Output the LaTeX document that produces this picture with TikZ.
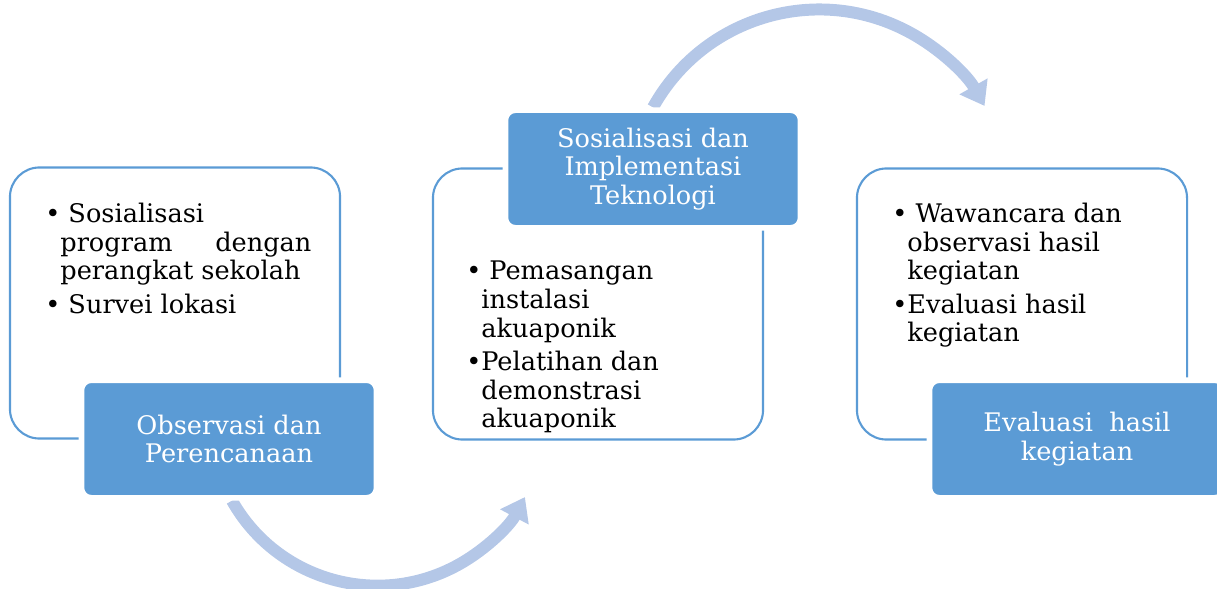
\documentclass[tikz,border=0pt]{standalone}
\usepackage{fontspec}
\setmainfont{DejaVu Serif}
\usetikzlibrary{arrows.meta,positioning}
\usetikzlibrary{backgrounds}

\begin{document}
\begin{tikzpicture}[
    x=0.025cm, y=0.025cm,
    font=\fontsize{18.2}{20.3}\selectfont,
    panel/.style={
        draw=stageblue,
        line width=1.5pt,
        rounded corners=21pt,
        minimum width=8.25cm,
        minimum height=6.775cm,
        inner sep=0pt
    },
    stagebox/.style={
        fill=stageblue,
        draw=white,
        line width=4pt,
        rounded corners=7pt,
        text=white,
        align=center,
        minimum width=7.375cm,
        minimum height=2.94cm,
        inner sep=0pt
    },
    itemlist/.style={
        anchor=north west,
        align=left,
        inner sep=0pt
    },
    flowarrow/.style={
        draw=arcblue,
        line width=8.5pt,
        -{Triangle[width=22pt,length=16pt]}
    }
]

\definecolor{stageblue}{HTML}{5B9BD5}
\definecolor{arcblue}{HTML}{B4C7E7}

\useasboundingbox (0,0) rectangle (1217,588);

\node[panel] (obsbox) at (175,285) {};
\node[panel] (sosbox) at (598,284) {};
\node[panel] (evabox) at (1022,284) {};

\node[stagebox] (obs) at (229,149) {Observasi dan\\Perencanaan};
\node[stagebox] (sos) at (653,419) {Sosialisasi dan\\Implementasi\\Teknologi};
\node[stagebox] (eva) at (1077,149) {Evaluasi\ \ hasil\\kegiatan};

\node[itemlist] (obslist) at (45,385) {
    \textbullet\ Sosialisasi\\
    \phantom{\textbullet}\makebox[6.275cm][s]{program dengan}\\
    \phantom{\textbullet}perangkat sekolah\\[3.5pt]
    \textbullet\ Survei lokasi};

\node[itemlist] (soslist) at (466,327) {
    \textbullet\ Pemasangan\\
    \phantom{\textbullet}instalasi\\
    \phantom{\textbullet}akuaponik\\[3.5pt]
    \textbullet Pelatihan dan\\
    \phantom{\textbullet}demonstrasi\\
    \phantom{\textbullet}akuaponik};

\node[itemlist] (evalist) at (892,385) {
    \textbullet\ Wawancara dan\\
    \phantom{\textbullet}observasi hasil\\
    \phantom{\textbullet}kegiatan\\[3.5pt]
    \textbullet Evaluasi hasil\\
    \phantom{\textbullet}kegiatan};

\begin{scope}[on background layer]
    \draw[flowarrow] ([shift={(3,0)}]obs.south)
        arc[start angle=209.4, end angle=332, radius=167];
    \draw[flowarrow] (sos.north)
        arc[start angle=151, end angle=29.5, radius=190];
\end{scope}

\end{tikzpicture}
\end{document}
